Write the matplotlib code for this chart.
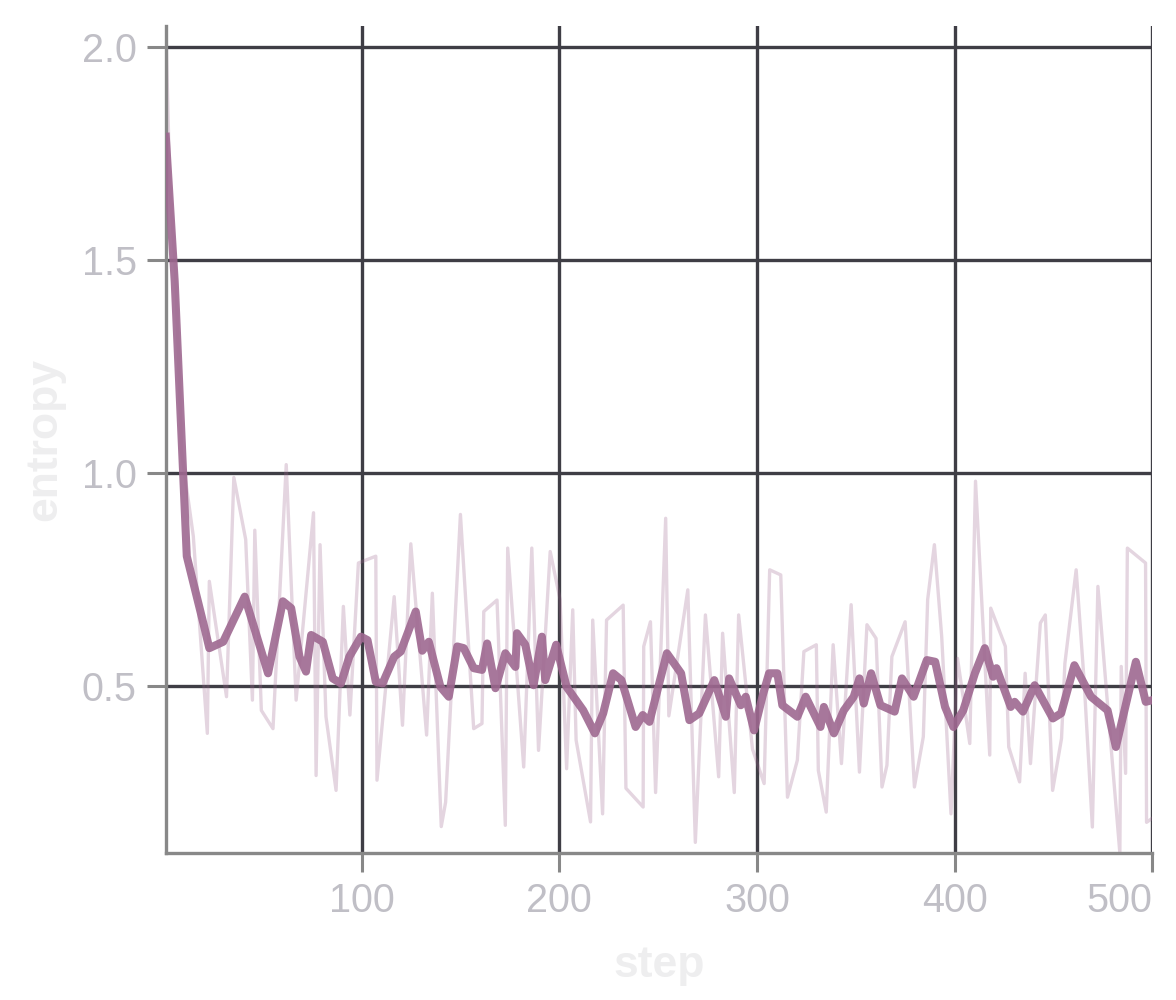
import matplotlib
matplotlib.use("Agg")
import matplotlib.pyplot as plt

# raw entropy values (light line)
raw_steps = [1, 3, 6, 9, 14.9, 22, 23, 31.7, 35.4, 41.4, 44.8, 46, 49.3, 55.2, 61.9, 66.9,
             75.7, 77, 79, 82, 87.1, 90.8, 94.1, 98.4, 107.2, 107.8, 116.5, 120.7, 124.9,
             132.9, 135.8, 140.3, 142.5, 150, 156.7, 160.9, 161.8, 168.5, 172.7, 173.9, 182,
             186.1, 189.5, 195.4, 200.4, 203.7, 206.8, 208.5, 215.8, 216.9, 221.9, 223.9,
             232.3, 233.7, 242.4, 242.7, 246.1, 248.7, 253.8, 255.4, 265, 268.8, 273.9, 280.6,
             282.6, 288.5, 290.7, 297.7, 303.6, 306.4, 312, 315.4, 320.4, 323.7, 330, 331, 335,
             338.5, 342.7, 347.6, 351.8, 355.6, 360.2, 363.2, 365.7, 368.2, 374.9, 379.6,
             384.1, 386.3, 389.7, 393.4, 398.1, 401.4, 407.6, 410.5, 417.7, 418.2, 425.6,
             427.3, 432.8, 435.6, 438.3, 443.3, 445.8, 449.5, 454, 455.7, 461.4, 465.4, 469.6,
             472.4, 477.1, 483.5, 484.2, 486.4, 487.3, 496.5, 497, 500]
raw_entropy = [2.05, 1.68, 1.47, 1.05, 0.852, 0.389, 0.746, 0.475, 0.99, 0.844, 0.467, 0.866,
               0.443, 0.40, 1.02, 0.467, 0.907, 0.29, 0.832, 0.428, 0.255, 0.687, 0.432, 0.789,
               0.805, 0.279, 0.71, 0.408, 0.834, 0.385, 0.718, 0.17, 0.227, 0.903, 0.40, 0.412,
               0.675, 0.702, 0.173, 0.824, 0.31, 0.824, 0.349, 0.816, 0.703, 0.306, 0.679,
               0.373, 0.181, 0.655, 0.20, 0.655, 0.69, 0.26, 0.216, 0.593, 0.651, 0.25, 0.894,
               0.43, 0.726, 0.133, 0.667, 0.287, 0.624, 0.25, 0.667, 0.352, 0.271, 0.773, 0.761,
               0.239, 0.326, 0.581, 0.597, 0.302, 0.204, 0.597, 0.318, 0.691, 0.298, 0.644,
               0.612, 0.263, 0.314, 0.569, 0.651, 0.263, 0.381, 0.703, 0.832, 0.616, 0.20,
               0.565, 0.365, 0.981, 0.338, 0.683, 0.593, 0.357, 0.275, 0.53, 0.318, 0.648,
               0.667, 0.255, 0.377, 0.553, 0.773, 0.514, 0.169, 0.734, 0.467, 0.108, 0.546,
               0.295, 0.824, 0.789, 0.18, 0.19]

# smoothed entropy (thick line)
smooth_steps = [1, 5.5, 11.6, 20.8, 23, 30, 40.9, 52.7, 60.2, 64.4, 68.6, 71.9, 74.5, 80.4,
                85.4, 89.6, 93.8, 99.7, 103, 107.2, 110.6, 116.5, 119.8, 127.4, 130.7, 134,
                139.9, 144.1, 148.4, 151.7, 156.7, 160.9, 163.5, 167.7, 172.7, 177.8, 178.6,
                182.8, 187, 191.2, 192.9, 198.4, 203.7, 212.1, 218, 222.2, 227.2, 231.4, 238.6,
                242.2, 245.6, 254.4, 261.6, 265.8, 270.8, 278.4, 284.2, 285.9, 291.8, 294.3,
                298.5, 303, 306.1, 310.3, 312.8, 320.4, 324.6, 332.1, 333.8, 338.9, 343.9,
                348.9, 351.8, 354, 357.7, 362.4, 369.6, 373.3, 379.2, 385.9, 390.1, 395.1,
                399.3, 404.3, 410.2, 415.2, 419.4, 421.1, 428.3, 430.3, 434.5, 440.4, 449.6,
                453.8, 460.5, 468.9, 477.3, 481.5, 491.6, 496.6, 500]
smooth_entropy = [1.79, 1.45, 0.805, 0.632, 0.589, 0.604, 0.71, 0.53, 0.699, 0.683, 0.569,
                  0.534, 0.62, 0.604, 0.518, 0.506, 0.569, 0.616, 0.608, 0.51, 0.506, 0.569,
                  0.581, 0.675, 0.583, 0.604, 0.498, 0.475, 0.593, 0.589, 0.542, 0.538, 0.60,
                  0.495, 0.577, 0.545, 0.624, 0.597, 0.502, 0.616, 0.514, 0.597, 0.498, 0.443,
                  0.389, 0.436, 0.53, 0.514, 0.404, 0.432, 0.416, 0.577, 0.53, 0.42, 0.436,
                  0.514, 0.428, 0.518, 0.455, 0.475, 0.396, 0.48, 0.53, 0.53, 0.455, 0.428,
                  0.475, 0.404, 0.451, 0.389, 0.443, 0.475, 0.518, 0.459, 0.53, 0.455, 0.44,
                  0.518, 0.475, 0.561, 0.557, 0.451, 0.404, 0.443, 0.53, 0.589, 0.522, 0.542,
                  0.451, 0.463, 0.44, 0.502, 0.424, 0.436, 0.549, 0.475, 0.443, 0.357, 0.557,
                  0.463, 0.467]

x_ticks = [100, 200, 300, 400, 500]
y_ticks = [0.5, 1.0, 1.5, 2.0]

plt.rcParams['font.family'] = ['Liberation Sans', 'DejaVu Sans']

fig = plt.figure(figsize=(11.76, 10), dpi=100)
ax = fig.add_axes([0.141, 0.147, 0.839, 0.827])

line_col = '#9e6890'
ax.plot(raw_steps, raw_entropy, color=line_col, alpha=0.28, lw=2.4, zorder=2)
ax.plot(smooth_steps, smooth_entropy, color=line_col, alpha=0.9, lw=5.8, zorder=3)

ax.set_xlim(min(raw_steps), max(raw_steps))
ax.set_ylim(min(raw_entropy), max(raw_entropy))
ax.set_xticks(x_ticks)
ax.set_yticks(y_ticks)
ax.set_yticklabels([f'{v:.1f}' for v in y_ticks])

ax.set_axisbelow(True)
ax.grid(True, color='#3f3e45', lw=2.4)

for side in ['top', 'right']:
    ax.spines[side].set_visible(False)
for side in ['left', 'bottom']:
    ax.spines[side].set_color('#888888')
    ax.spines[side].set_linewidth(2.4)

ax.tick_params(axis='both', direction='out', length=14, width=2.2, color='#888888',
               labelcolor='#c0bfc6', labelsize=28.5, pad=7)

# last x label kept inside the canvas
ax.get_xticklabels()[-1].set_horizontalalignment('right')

ax.set_xlabel('step', fontsize=32, fontweight='bold', color='#eeeeef', labelpad=18)
ax.set_ylabel('entropy', fontsize=32, fontweight='bold', color='#eeeeef', labelpad=12)

fig.savefig('out.png', dpi=100)
